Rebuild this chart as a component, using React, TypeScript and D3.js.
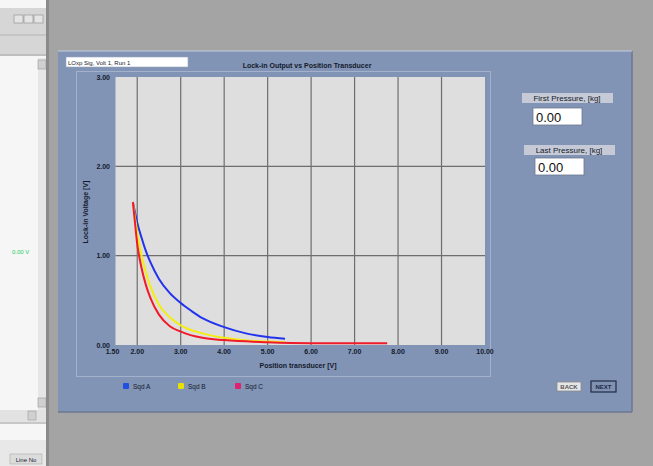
import React from 'react';
import * as d3 from 'd3';

// ---- data ----
const xTicks = [1.5, 2, 3, 4, 5, 6, 7, 8, 9, 10];
const yTicks = [0, 1, 2, 3];
const xGrid = [2, 3, 4, 5, 6, 7, 8, 9];
const yGrid = [1, 2];
const seriesNames = ['Sqd A', 'Sqd B', 'Sqd C'];
const seriesColors = ['#2233ee', '#f4ee10', '#f01a2a'];
const legendColors = ['#2050e0', '#e8e000', '#e02070'];

const blueX = [1.9, 1.95, 2.0, 2.1, 2.2, 2.3, 2.5, 2.75, 3.0, 3.25, 3.5, 4.0, 4.5, 5.0, 5.4];
const blueY = [1.6, 1.48, 1.37, 1.2, 1.05, 0.93, 0.74, 0.58, 0.47, 0.38, 0.3, 0.2, 0.13, 0.09, 0.07];
const yellowX = [1.9, 1.95, 2.0, 2.05, 2.1, 2.2, 2.3, 2.5, 2.75, 3.0, 3.5, 4.0, 4.5, 5.0, 5.4];
const yellowY = [1.6, 1.42, 1.26, 1.12, 1.0, 0.81, 0.66, 0.45, 0.31, 0.22, 0.13, 0.08, 0.05, 0.04, 0.03];
const redX = [1.9, 1.95, 2.0, 2.05, 2.1, 2.2, 2.3, 2.5, 2.75, 3.0, 3.5, 4.0, 5.0, 6.0, 7.0, 7.75];
const redY = [1.6, 1.36, 1.13, 0.98, 0.86, 0.67, 0.53, 0.34, 0.21, 0.15, 0.08, 0.055, 0.03, 0.02, 0.02, 0.02];

const seriesXs = [blueX, yellowX, redX];
const seriesYs = [blueY, yellowY, redY];

const graphTitle = 'Lock-in Output vs Position Transducer';
const xLabel = 'Position transducer  [V]';
const yLabel = 'Lock-in Voltage  [V]';
const runLabel = 'LOxp Sig, Volt 1, Run 1';
const firstLabel = 'First Pressure, [kg]';
const lastLabel = 'Last Pressure, [kg]';
const firstValue = '0.00';
const lastValue = '0.00';

export default function App() {
  const x = d3.scaleLinear().domain([1.5, 10]).range([115.5, 485]);
  const y = d3.scaleLinear().domain([0, 3]).range([345, 77]);
  const line = d3
    .line<[number, number]>()
    .x((d) => x(d[0]))
    .y((d) => y(d[1]))
    .curve(d3.curveMonotoneX);

  const font = "'Liberation Sans', Arial, sans-serif";
  const tiny = { fontFamily: font, fontSize: 7, fontWeight: 700 as const, fill: '#141a2c' };

  return (
    <svg
      width={653}
      height={466}
      style={{ position: 'fixed', left: 0, top: 0, display: 'block' }}
    >
      {/* outer background */}
      <rect x={0} y={0} width={653} height={466} fill="#a4a4a4" />

      {/* left window strip */}
      <rect x={0} y={0} width={46} height={466} fill="#f6f6f6" />
      <rect x={0} y={8} width={46} height={48} fill="#d6d6d6" />
      <line x1={0} y1={35} x2={46} y2={35} stroke="#b4b4b4" />
      <line x1={0} y1={55} x2={46} y2={55} stroke="#a8a8a8" />
      <rect x={14} y={15} width={9} height={8} fill="#e4e4e4" stroke="#8a8a8a" strokeWidth={0.6} />
      <rect x={24} y={15} width={9} height={8} fill="#e4e4e4" stroke="#8a8a8a" strokeWidth={0.6} />
      <rect x={34} y={15} width={9} height={8} fill="#e4e4e4" stroke="#8a8a8a" strokeWidth={0.6} />
      <rect x={38} y={58} width={8} height={352} fill="#e6e6e6" />
      <rect x={38} y={60} width={8} height={9} fill="#d0d0d0" stroke="#9a9a9a" strokeWidth={0.6} />
      <rect x={38} y={398} width={8} height={9} fill="#d0d0d0" stroke="#9a9a9a" strokeWidth={0.6} />
      <rect x={0} y={410} width={46} height={12} fill="#e2e2e2" />
      <rect x={28} y={411} width={8} height={9} fill="#d0d0d0" stroke="#9a9a9a" strokeWidth={0.6} />
      <line x1={0} y1={423} x2={46} y2={423} stroke="#9a9a9a" />
      <rect x={0} y={440} width={46} height={26} fill="#e8e8e8" />
      <rect x={10} y={454} width={32} height={10} fill="#dcdcdc" stroke="#aaaaaa" strokeWidth={0.6} />
      <text x={26} y={462} textAnchor="middle" style={{ ...tiny, fontSize: 6, fontWeight: 400 }}>
        Line No
      </text>
      <text x={12} y={254} style={{ fontFamily: font, fontSize: 6, fill: '#22cc66' }}>
        0.00 V
      </text>
      <rect x={46} y={0} width={3} height={466} fill="#8a8a8a" />

      {/* main panel */}
      <rect x={58} y={51} width={574} height={361} fill="#8194b6" />
      <line x1={58} y1={412} x2={632} y2={412} stroke="#6c7890" strokeWidth={1.5} />
      <line x1={632} y1={51} x2={632} y2={412} stroke="#6c7890" strokeWidth={1.5} />
      <line x1={58} y1={51} x2={632} y2={51} stroke="#c4cce0" strokeWidth={1} />

      {/* graph frame */}
      <rect x={76.5} y={71.5} width={414} height={305} fill="none" stroke="#a3b1cc" strokeWidth={1} />

      {/* run label box */}
      <rect x={66} y={57} width={122} height={10} fill="#ffffff" stroke="#9aa6bd" strokeWidth={0.6} />
      <text x={68} y={64.5} style={{ ...tiny, fontSize: 6, fontWeight: 400 }}>
        {runLabel}
      </text>

      {/* title */}
      <text x={307} y={68} textAnchor="middle" style={tiny}>
        {graphTitle}
      </text>

      {/* plot area */}
      <rect x={x(1.5)} y={y(3)} width={x(10) - x(1.5)} height={y(0) - y(3)} fill="#dedede" />
      {xGrid.map((v) => (
        <line key={'gx' + v} x1={x(v)} x2={x(v)} y1={y(3)} y2={y(0)} stroke="#6e6e6e" strokeWidth={1.2} />
      ))}
      {yGrid.map((v) => (
        <line key={'gy' + v} x1={x(1.5)} x2={x(10)} y1={y(v)} y2={y(v)} stroke="#6e6e6e" strokeWidth={1.2} />
      ))}

      {/* series */}
      {seriesXs.map((xs, i) => (
        <path
          key={'s' + i}
          d={line(xs.map((xv, j) => [xv, seriesYs[i][j]] as [number, number])) || ''}
          fill="none"
          stroke={seriesColors[i]}
          strokeWidth={2}
        />
      ))}

      {/* y ticks */}
      {yTicks.map((v) => (
        <text key={'yt' + v} x={110} y={y(v) + 2.5} textAnchor="end" style={tiny}>
          {v.toFixed(2)}
        </text>
      ))}
      {/* x ticks */}
      {xTicks.map((v) => (
        <text key={'xt' + v} x={x(v) + (v === 1.5 ? -3 : 0)} y={354} textAnchor="middle" style={tiny}>
          {v.toFixed(2)}
        </text>
      ))}

      {/* axis labels */}
      <text x={298} y={368} textAnchor="middle" style={tiny}>
        {xLabel}
      </text>
      <text transform="translate(88,212) rotate(-90)" textAnchor="middle" style={tiny}>
        {yLabel}
      </text>

      {/* legend */}
      {seriesNames.map((n, i) => {
        const lx = [123, 178, 235][i];
        return (
          <g key={'lg' + i}>
            <rect x={lx} y={383} width={6} height={6} fill={legendColors[i]} rx={1} />
            <text x={lx + 10} y={389} style={{ ...tiny, fontWeight: 400, fontSize: 6.5 }}>
              {n}
            </text>
          </g>
        );
      })}

      {/* pressure indicators */}
      <rect x={522} y={93} width={91} height={10} fill="#c5cad6" />
      <text x={567} y={101} textAnchor="middle" style={{ ...tiny, fontSize: 8, fontWeight: 400 }}>
        {firstLabel}
      </text>
      <rect x={533} y={108} width={49} height={17} fill="#ffffff" stroke="#6c7890" strokeWidth={0.8} />
      <text x={536} y={122} style={{ fontFamily: font, fontSize: 13, fill: '#101010' }}>
        {firstValue}
      </text>

      <rect x={524} y={145} width={91} height={10} fill="#c5cad6" />
      <text x={569} y={153} textAnchor="middle" style={{ ...tiny, fontSize: 8, fontWeight: 400 }}>
        {lastLabel}
      </text>
      <rect x={535} y={158} width={49} height={17} fill="#ffffff" stroke="#6c7890" strokeWidth={0.8} />
      <text x={538} y={172} style={{ fontFamily: font, fontSize: 13, fill: '#101010' }}>
        {lastValue}
      </text>

      {/* buttons */}
      <rect x={557} y={382} width={24} height={9} fill="#e6e6e6" stroke="#8a8a8a" strokeWidth={0.8} />
      <text x={569} y={389} textAnchor="middle" style={{ ...tiny, fontSize: 6, fill: '#555' }}>
        BACK
      </text>
      <rect x={591} y={381} width={25} height={11} fill="#8092b2" stroke="#1e2a44" strokeWidth={1.2} />
      <text x={603.5} y={389} textAnchor="middle" style={{ ...tiny, fontSize: 6, fill: '#1e2a44' }}>
        NEXT
      </text>
    </svg>
  );
}
